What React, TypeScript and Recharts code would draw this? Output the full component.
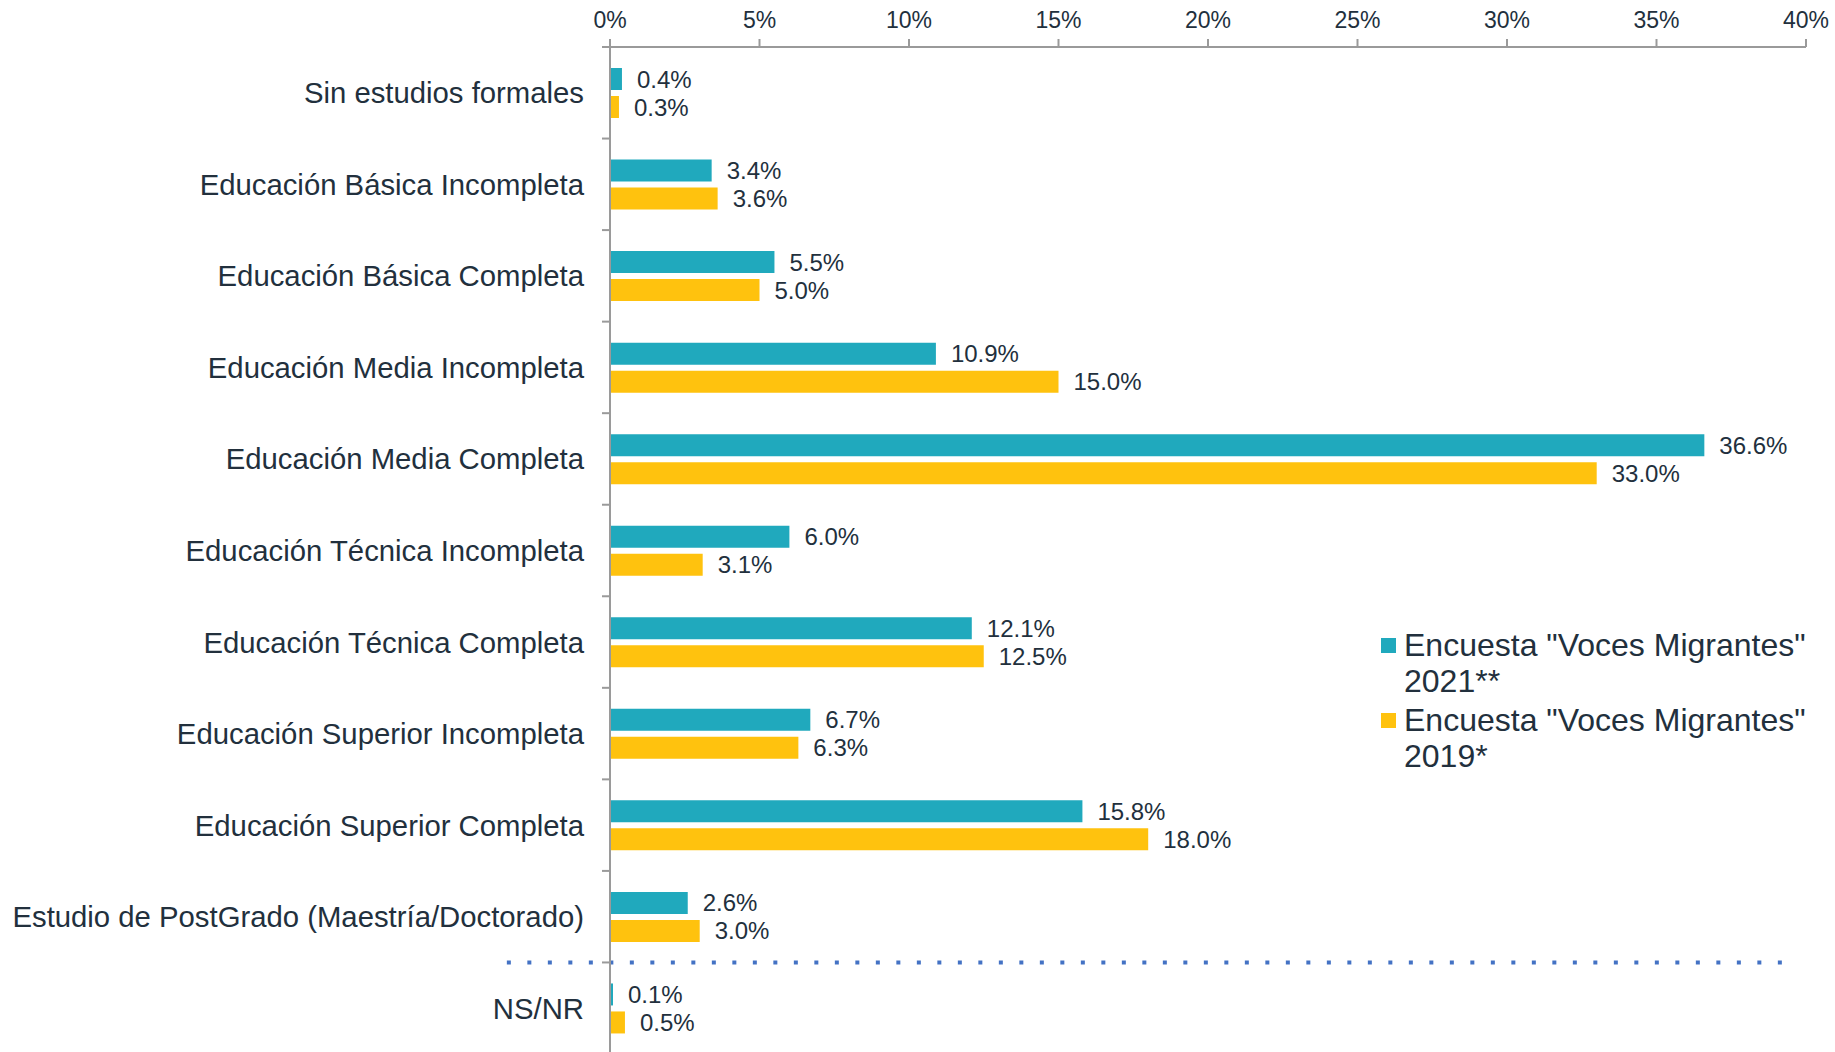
import React from "react";
import { BarChart, Bar, XAxis, YAxis, LabelList, Legend, ReferenceLine } from "recharts";

const categories = [
  "Sin estudios formales",
  "Educación Básica Incompleta",
  "Educación Básica Completa",
  "Educación Media Incompleta",
  "Educación Media Completa",
  "Educación Técnica Incompleta",
  "Educación Técnica Completa",
  "Educación Superior Incompleta",
  "Educación Superior Completa",
  "Estudio de PostGrado (Maestría/Doctorado)",
  "NS/NR",
];
const values2021 = [0.4, 3.4, 5.5, 10.9, 36.6, 6.0, 12.1, 6.7, 15.8, 2.6, 0.1];
const values2019 = [0.3, 3.6, 5.0, 15.0, 33.0, 3.1, 12.5, 6.3, 18.0, 3.0, 0.5];
const xTicks = [0, 5, 10, 15, 20, 25, 30, 35, 40];
const seriesNames = ['Encuesta "Voces Migrantes" 2021**', 'Encuesta "Voces Migrantes" 2019*'];
const legendLines = [
  ['Encuesta "Voces Migrantes"', "2021**"],
  ['Encuesta "Voces Migrantes"', "2019*"],
];

const data = categories.map((c, i) => ({ cat: c, v2021: values2021[i], v2019: values2019[i] }));

const W = 1835;
const H = 1052;
const CH = 1054;
const TOP = 47;
const BAND = (CH - TOP) / categories.length;
const TEAL = "#20A9BD";
const YELLOW = "#FFC20E";
const TEXT = "#22303D";
const AXIS = "#9A9A9A";
const FONT = '"Liberation Sans", Arial, sans-serif';

const YTick = (props: any) => {
  const { x, y, payload } = props;
  return (
    <g>
      <text x={x - 26} y={y} textAnchor="end" dominantBaseline="central" fontSize={29.3} fill={TEXT} fontFamily={FONT}>
        {payload.value}
      </text>
      <line x1={x - 8} x2={x} y1={y - BAND / 2} y2={y - BAND / 2} stroke={AXIS} strokeWidth={2} />
    </g>
  );
};

const colors = [TEAL, YELLOW];

const LegendContent = () => (
  <div style={{ fontFamily: FONT, color: TEXT }}>
    {legendLines.map((lines, i) => (
      <div key={i} style={{ display: "flex", alignItems: "flex-start", marginBottom: 3 }}>
        <div style={{ width: 15, height: 15, background: colors[i], marginTop: 11, marginRight: 8, flexShrink: 0 }} />
        <div style={{ fontSize: 32, lineHeight: "36px", whiteSpace: "nowrap" }} title={seriesNames[i]}>
          {lines.map((l, j) => (
            <div key={j}>{l}</div>
          ))}
        </div>
      </div>
    ))}
  </div>
);

const fmt = (v: any) => `${Number(v).toFixed(1)}%`;

export default function App() {
  return (
    <div style={{ position: "absolute", left: 0, top: 0, width: W, height: H, overflow: "hidden", background: "#fff", fontFamily: FONT }}>
      <BarChart
        width={W}
        height={CH}
        data={data}
        layout="vertical"
        margin={{ top: 0, right: 29, bottom: 0, left: 0 }}
        barSize={22}
        barGap={6}
      >
        <XAxis
          type="number"
          orientation="top"
          domain={[0, 40]}
          ticks={xTicks}
          tickFormatter={(v: number) => `${v}%`}
          height={TOP}
          tickSize={8}
          tickMargin={11}
          axisLine={{ stroke: AXIS, strokeWidth: 2 }}
          tickLine={{ stroke: AXIS, strokeWidth: 2 }}
          tick={{ fontSize: 23, fill: TEXT, fontFamily: FONT }}
          interval={0}
        />
        <YAxis
          type="category"
          dataKey="cat"
          width={610}
          tickSize={0}
          tickMargin={0}
          tickLine={false}
          axisLine={{ stroke: AXIS, strokeWidth: 2 }}
          tick={<YTick />}
          interval={0}
        />
        <ReferenceLine
          segment={[
            { x: -3.45, y: "NS/NR" },
            { x: 39.3, y: "NS/NR" },
          ]}
          position="start"
          ifOverflow="visible"
          stroke="#4472C4"
          strokeWidth={4}
          strokeDasharray="4 16.5"
        />
        <Legend
          layout="vertical"
          align="center"
          verticalAlign="middle"
          wrapperStyle={{ left: 1381, top: 627, width: 460 }}
          content={<LegendContent />}
        />
        <Bar dataKey="v2021" name={seriesNames[0]} fill={TEAL} isAnimationActive={false}>
          <LabelList dataKey="v2021" position="right" offset={15} formatter={fmt} fontSize={24} fill={TEXT} fontFamily={FONT} />
        </Bar>
        <Bar dataKey="v2019" name={seriesNames[1]} fill={YELLOW} isAnimationActive={false}>
          <LabelList dataKey="v2019" position="right" offset={15} formatter={fmt} fontSize={24} fill={TEXT} fontFamily={FONT} />
        </Bar>
      </BarChart>
    </div>
  );
}
